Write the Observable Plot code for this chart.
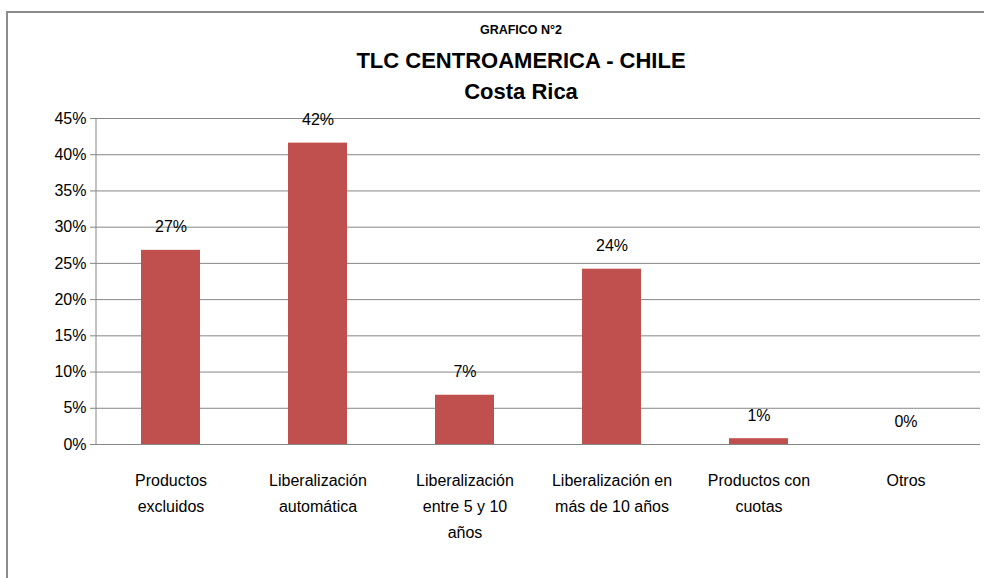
<!DOCTYPE html>
<html>
<head>
<meta charset="utf-8">
<script src="https://cdn.jsdelivr.net/npm/d3@7"></script>
<script src="https://cdn.jsdelivr.net/npm/@observablehq/plot@0.6"></script>
<style>
  html, body { margin: 0; padding: 0; background: #fff; width: 984px; height: 578px; overflow: hidden; position: relative; }
  #frame { position: absolute; left: 6px; top: 11px; right: -20px; bottom: -20px; border-left: 2px solid #8c8c8c; border-top: 2px solid #8c8c8c; }
  #titles { position: absolute; left: 0; top: 0; width: 984px; height: 105px; font-family: "Liberation Sans Narrow", "Liberation Sans", sans-serif; font-weight: bold; color: #000; }
  #titles div { position: absolute; left: 0; width: 1042px; text-align: center; }
  #t1 { top: 23px; font-size: 12.5px; }
  #t2 { top: 48px; font-size: 22px; }
  #t3 { top: 79px; font-size: 22px; }
  #chart { position: absolute; left: 0; top: 105px; }
</style>
</head>
<body>
<div id="frame"></div>
<div id="titles">
  <div id="t1">GRAFICO N°2</div>
  <div id="t2">TLC CENTROAMERICA - CHILE</div>
  <div id="t3">Costa Rica</div>
</div>
<div id="chart"></div>
<script>
const categories = [
  "Productos\nexcluidos",
  "Liberalización\nautomática",
  "Liberalización\nentre 5 y 10\naños",
  "Liberalización en\nmás de 10 años",
  "Productos con\ncuotas",
  "Otros"
];
const values = [0.268, 0.416, 0.068, 0.242, 0.008, 0];
const labels = ["27%", "42%", "7%", "24%", "1%", "0%"];
const yTicks = [0, 0.05, 0.10, 0.15, 0.20, 0.25, 0.30, 0.35, 0.40, 0.45];

const data = categories.map((c, i) => ({cat: c, value: values[i], label: labels[i]}));
const font = '"Liberation Sans Narrow", "Liberation Sans", sans-serif';

const leftLine = (index, scales, values, dim) => {
  const l = document.createElementNS("http://www.w3.org/2000/svg", "line");
  l.setAttribute("x1", dim.marginLeft);
  l.setAttribute("x2", dim.marginLeft);
  l.setAttribute("y1", dim.marginTop);
  l.setAttribute("y2", dim.height - dim.marginBottom);
  l.setAttribute("stroke", "#868686");
  return l;
};

const chart = Plot.plot({
  width: 984,
  height: 473,
  marginLeft: 96,
  marginRight: 4,
  marginTop: 13,
  marginBottom: 134,
  style: {fontFamily: font, fontSize: "16px", color: "#000", background: "transparent"},
  x: {domain: categories, paddingInner: 0.6, paddingOuter: 0.3, label: null},
  y: {domain: [0, 0.45], label: null},
  marks: [
    Plot.gridY(yTicks, {stroke: "#868686", strokeOpacity: 1}),
    Plot.axisY(yTicks, {tickFormat: d => Math.round(d * 100) + "%", tickSize: 6, tickPadding: 4, stroke: "#868686", fill: "#000", fontSize: 16, label: null}),
    Plot.barY(data.filter(d => d.value > 0), {x: "cat", y: "value", fill: "#C0504D"}),
    Plot.ruleY([0], {stroke: "#868686"}),
    leftLine,
    Plot.text(data, {x: "cat", y: "value", text: "label", dy: -23, fontSize: 16, fill: "#000"}),
    Plot.axisX({tickSize: 0, tickPadding: 23, fontSize: 16, lineHeight: 1.63, fill: "#000", label: null})
  ]
});
document.getElementById("chart").appendChild(chart);
</script>
</body>
</html>
